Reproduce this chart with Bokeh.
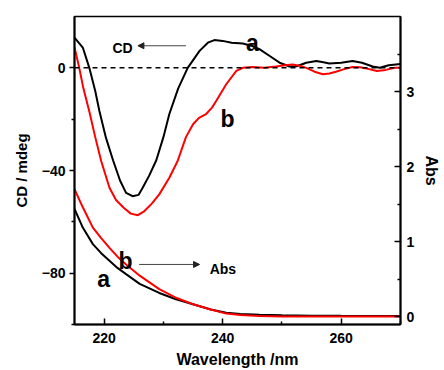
from bokeh.plotting import figure
from bokeh.models import (Range1d, LinearAxis, FixedTicker, Span, Label, Arrow,
                          NormalHead)
from bokeh.embed import file_html
from bokeh.resources import INLINE

# ---- data -----------------------------------------------------------------
cd_a_wl = [215, 216.4, 217.5, 218.5, 219.2, 220.3, 221.5, 222.7, 223.7, 224.8,
           225.8, 226.5, 227.6, 228.8, 230, 231, 232.5, 234.1, 236.1, 237.5,
           238.6, 240, 241.5, 243.4, 245, 246.2, 248, 249.6, 251.3, 252.5,
           254.1, 255.8, 257, 258, 260, 261.9, 263.5, 265.3, 266.5, 268, 270]
cd_a = [11.8, 7.9, 0, -9, -16.8, -27.2, -36, -44, -48.7, -50,
        -49.5, -46.7, -42, -36, -27, -18, -8, 0, 6.6, 9.8,
        10.8, 10.5, 9.8, 9.5, 8.5, 7.3, 4.5, 2, 0.5, 0.6,
        2, 2.7, 2.2, 1.7, 2.0, 2.7, 2.0, 0.5, 0, 1.0, 1.5]

cd_b_wl = [215, 215.8, 216.5, 217.5, 218.5, 219.5, 220.9, 222, 223.3, 224.5,
           225.7, 226.8, 228, 229.3, 231, 232.4, 233.8, 235, 236, 237.2,
           238.2, 238.9, 240.6, 242.3, 243.4, 245, 247, 249, 250.5, 251.8,
           253, 254.1, 255.5, 256.9, 258, 259.1, 260.5, 261.9, 263.2, 264.7,
           266, 267.5, 269, 270]
cd_b = [7.9, 0, -8, -17, -27, -36.3, -46.7, -51.5, -54.5, -56.8,
        -57.4, -55.8, -53, -49.3, -42.8, -36.3, -27, -22, -19.5, -18,
        -15.5, -12.9, -6.4, -1.2, 0, 0.3, 0, 0.5, 1, 1.3,
        0.8, 0, -1.5, -2.5, -2.2, -1.5, -0.5, 0.3, 0.2, -0.5,
        -1.2, -0.8, 0, 0]

abs_wl = [215, 216.4, 218.1, 219.5, 220.9, 222.3, 223.7, 226, 229.3, 232,
          235, 238, 240.6, 243, 246.2, 250, 255, 260, 265, 270]
abs_a = [1.44, 1.19, 0.97, 0.85, 0.75, 0.65, 0.57, 0.44, 0.32, 0.24,
         0.17, 0.10, 0.057, 0.04, 0.03, 0.022, 0.018, 0.015, 0.013, 0.012]
abs_b = [1.70, 1.46, 1.19, 1.05, 0.92, 0.80, 0.70, 0.55, 0.37, 0.26,
         0.17, 0.10, 0.045, 0.025, 0.012, 0.008, 0.006, 0.005, 0.005, 0.005]

x_ticks = [220, 240, 260]
x_minor = [230, 250, 270]
cd_ticks = [-80, -40, 0]
cd_minor = [-100, -60, -20]
abs_ticks = [0, 1, 2, 3]
abs_minor = [0.5, 1.5, 2.5, 3.5]

FONT = "Liberation Sans"

p = figure(frame_width=326, frame_height=308, x_range=Range1d(215, 270),
           y_range=Range1d(-100, 20), output_backend="svg",
           toolbar_location=None, min_border_left=74, min_border_right=0,
           min_border_top=16, min_border_bottom=8)
p.extra_y_ranges = {"abs": Range1d(-0.1, 4.0)}
p.grid.visible = False
p.outline_line_color = "black"
p.outline_line_width = 1.5
p.background_fill_color = "white"
p.border_fill_color = "white"

def style_axis(ax, ticks, minor):
    ax.ticker = FixedTicker(ticks=ticks, minor_ticks=minor)
    ax.axis_line_width = 2
    ax.major_tick_line_width = 1.5
    ax.minor_tick_line_width = 1.5
    ax.major_label_text_font = FONT
    ax.major_label_text_font_style = "bold"
    ax.major_label_text_font_size = "14px"
    ax.major_label_text_color = "black"
    ax.axis_label_text_font = FONT
    ax.axis_label_text_font_style = "bold"
    ax.axis_label_text_font_size = "16px"
    ax.axis_label_text_color = "black"

xa = p.xaxis[0]
style_axis(xa, x_ticks, x_minor)
xa.axis_label = "Wavelength /nm"
xa.major_tick_in = 6
xa.major_tick_out = 0
xa.minor_tick_in = 3
xa.minor_tick_out = 0
xa.major_label_standoff = 8
xa.axis_label_standoff = 5

ya = p.yaxis[0]
style_axis(ya, cd_ticks, cd_minor)
ya.axis_label = "CD / mdeg"
ya.axis_label_text_font_size = "15px"
ya.major_tick_in = 0
ya.major_tick_out = 5
ya.minor_tick_in = 0
ya.minor_tick_out = 3
ya.major_label_standoff = 4
ya.axis_label_standoff = 9

ra = LinearAxis(y_range_name="abs")
style_axis(ra, abs_ticks, abs_minor)
ra.axis_label = "Abs"
ra.major_tick_in = 6
ra.major_tick_out = 0
ra.minor_tick_in = 3
ra.minor_tick_out = 0
ra.major_label_standoff = 6
ra.axis_label_standoff = 6
p.add_layout(ra, "right")

p.add_layout(Span(location=0, dimension="width", line_color="black",
                  line_dash="5 4", line_width=1.5))

p.line(cd_a_wl, cd_a, line_color="black", line_width=2)
p.line(cd_b_wl, cd_b, line_color="red", line_width=2)
p.line(abs_wl, abs_a, line_color="black", line_width=2, y_range_name="abs")
p.line(abs_wl, abs_b, line_color="red", line_width=2, y_range_name="abs")

def lab(x, y, t, size, align="center"):
    p.add_layout(Label(x=x, y=y, text=t, text_font=FONT, text_font_style="bold",
                       text_font_size=size, text_align=align,
                       text_baseline="alphabetic", text_color="black"))

lab(245.0, 9.8, "a", "23px")
lab(240.8, -19.9, "b", "23px")
lab(223.6, -75.3, "b", "23px")
lab(219.9, -82.3, "a", "23px")
lab(221.4, 7.8, "CD", "14px", "left")
lab(237.8, -78.4, "Abs", "14px", "left")

p.add_layout(Arrow(x_start=233.8, y_start=8.6, x_end=225.7, y_end=8.6,
                   line_color="#444444", line_width=1,
                   end=NormalHead(size=6, fill_color="#222222",
                                  line_color="#222222")))
p.add_layout(Arrow(x_start=225.9, y_start=-76.6, x_end=236.1, y_end=-76.6,
                   line_color="#444444", line_width=1,
                   end=NormalHead(size=6, fill_color="#222222",
                                  line_color="#222222")))

open("out.html", "w").write(file_html(p, INLINE))
